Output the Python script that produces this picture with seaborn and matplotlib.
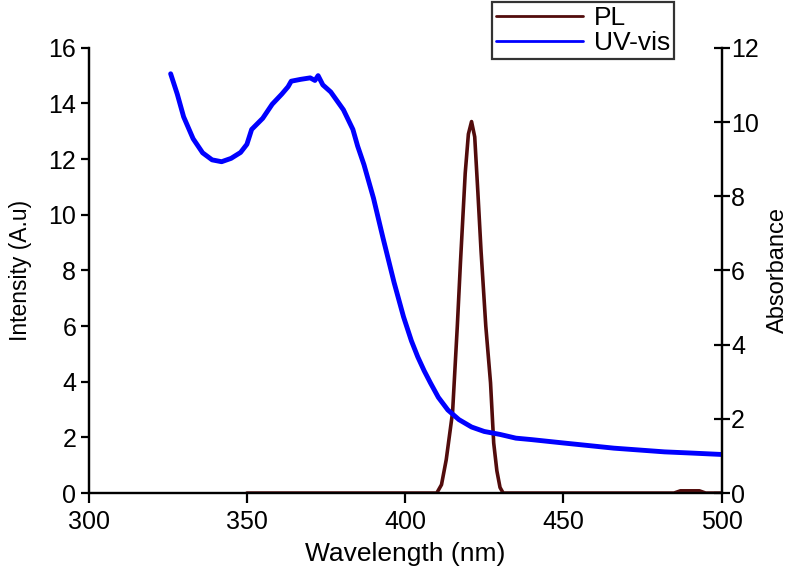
import numpy as np
import pandas as pd
import matplotlib
matplotlib.use('Agg')
import matplotlib.pyplot as plt
import seaborn as sns

# UV-vis absorbance (right axis)
uv_wavelength = [325.9, 328, 330, 333, 336, 339, 342, 345, 348, 350, 351.5, 355, 358,
                 361, 363, 364, 367, 370, 371.5, 372.5, 374, 376.5, 380.5, 383.5, 385,
                 387, 390, 393, 396.5, 399.5, 402, 404, 406, 408, 410.5, 413.5, 417,
                 421, 425, 430, 435, 440, 450, 458, 466, 474, 482, 490, 500]
uv_absorbance = [11.30, 10.75, 10.14, 9.55, 9.17, 8.98, 8.93, 9.02, 9.18, 9.40, 9.80,
                 10.10, 10.48, 10.75, 10.95, 11.10, 11.15, 11.19, 11.12, 11.25, 11.0,
                 10.81, 10.33, 9.80, 9.35, 8.85, 7.95, 6.88, 5.68, 4.75, 4.10, 3.67,
                 3.30, 2.97, 2.58, 2.24, 1.98, 1.78, 1.66, 1.58, 1.48, 1.44, 1.35, 1.28,
                 1.21, 1.16, 1.11, 1.08, 1.04]

# PL intensity (left axis)
pl_wavelength = [350, 400, 410, 411.5, 413, 415, 416.5, 417.5, 419, 420, 421, 422, 423,
                 424, 425.5, 427, 428, 429, 430, 431, 485, 487, 493, 495, 500]
pl_intensity = [0, 0, 0, 0.3, 1.2, 2.9, 6.0, 8.3, 11.5, 12.9, 13.35, 12.8, 10.8, 8.7,
                6.0, 3.96, 1.8, 0.8, 0.2, 0, 0, 0.08, 0.08, 0, 0]

sns.set_style('white')
plt.rcParams['font.family'] = ['Liberation Sans', 'DejaVu Sans']
plt.rcParams['text.color'] = 'black'
plt.rcParams['axes.labelcolor'] = 'black'
plt.rcParams['xtick.color'] = 'black'
plt.rcParams['ytick.color'] = 'black'

fig = plt.figure(figsize=(7.92, 5.76), dpi=100)
ax = fig.add_axes([0.112, 0.144, 0.799, 0.773])
ax2 = ax.twinx()

pl = pd.DataFrame({'x': pl_wavelength, 'y': pl_intensity})
uv = pd.DataFrame({'x': uv_wavelength, 'y': uv_absorbance})

sns.lineplot(data=pl, x='x', y='y', ax=ax, color='#520c0c', linewidth=2.6, label='PL', legend=False)
sns.lineplot(data=uv, x='x', y='y', ax=ax2, color='#0000ff', linewidth=3.5, label='UV-vis', legend=False)

ax.set_xlim(300, 500)
ax.set_ylim(0, 16)
ax2.set_ylim(0, 12)
ax.set_xticks([300, 350, 400, 450, 500])
ax.set_yticks(range(0, 17, 2))
ax2.set_yticks(range(0, 13, 2))

for a in (ax, ax2):
    a.spines['top'].set_visible(False)
    for s in a.spines.values():
        s.set_color('black')
        s.set_linewidth(1.6)
ax.spines['bottom'].set_color('#333333')

ax.tick_params(axis='x', direction='out', length=7, width=1.6, labelsize=18, bottom=True, pad=5)
ax.tick_params(axis='y', direction='out', length=6, width=1.6, labelsize=18, left=True, pad=3)
ax2.tick_params(axis='y', direction='inout', length=12, width=1.6, labelsize=18, right=True, pad=1)

ax.set_xlabel('Wavelength (nm)', fontsize=19, labelpad=6)
ax.set_ylabel('Intensity (A.u)', fontsize=16.5, labelpad=12)
ax2.set_ylabel('Absorbance', fontsize=17, labelpad=6)

h1, l1 = ax.get_legend_handles_labels()
h2, l2 = ax2.get_legend_handles_labels()
leg = fig.legend(h1 + h2, l1 + l2, loc='upper right', bbox_to_anchor=(674 / 792, 1 - 2 / 576),
                 fontsize=19, frameon=True, fancybox=False, borderpad=0.15, labelspacing=0.05,
                 handlelength=3.3, handletextpad=0.4, borderaxespad=0)
leg.get_frame().set_edgecolor('black')
leg.get_frame().set_linewidth(1.6)
for line in leg.get_lines():
    line.set_linewidth(2)

fig.savefig('out.png', dpi=100)
